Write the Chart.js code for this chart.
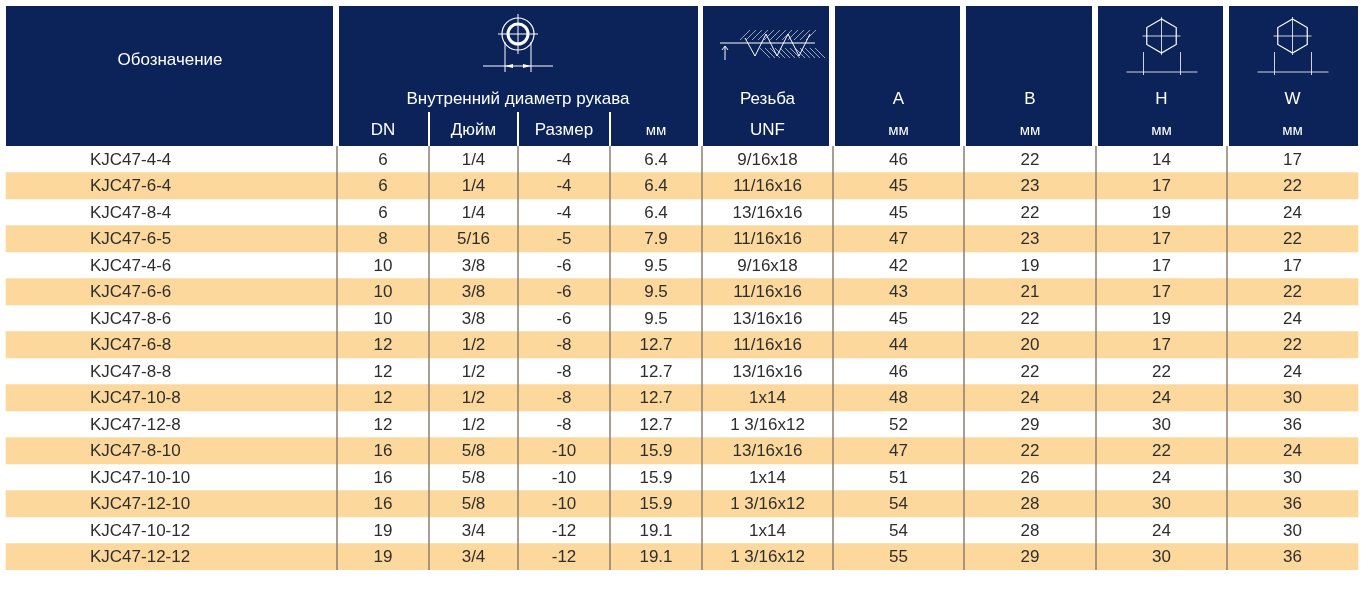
<!DOCTYPE html>
<html>
<head>
<meta charset="utf-8">
<script src="https://cdn.jsdelivr.net/npm/chart.js@4"></script>
<style>
  body { margin: 0; background: #fff; }
  #wrap { width: 1370px; height: 590px; position: relative; }
</style>
</head>
<body>
<div id="wrap"><canvas id="tbl"></canvas></div>
<script>
// данные таблицы
const codes = ["KJC47-4-4","KJC47-6-4","KJC47-8-4","KJC47-6-5","KJC47-4-6","KJC47-6-6","KJC47-8-6","KJC47-6-8",
  "KJC47-8-8","KJC47-10-8","KJC47-12-8","KJC47-8-10","KJC47-10-10","KJC47-12-10","KJC47-10-12","KJC47-12-12"];
const dn = ["6","6","6","8","10","10","10","12","12","12","12","16","16","16","19","19"];
const inch = ["1/4","1/4","1/4","5/16","3/8","3/8","3/8","1/2","1/2","1/2","1/2","5/8","5/8","5/8","3/4","3/4"];
const size = ["-4","-4","-4","-5","-6","-6","-6","-8","-8","-8","-8","-10","-10","-10","-12","-12"];
const mm = ["6.4","6.4","6.4","7.9","9.5","9.5","9.5","12.7","12.7","12.7","12.7","15.9","15.9","15.9","19.1","19.1"];
const unf = ["9/16x18","11/16x16","13/16x16","11/16x16","9/16x18","11/16x16","13/16x16","11/16x16",
  "13/16x16","1x14","1 3/16x12","13/16x16","1x14","1 3/16x12","1x14","1 3/16x12"];
const colA = ["46","45","45","47","42","43","45","44","46","48","52","47","51","54","54","55"];
const colB = ["22","23","22","23","19","21","22","20","22","24","29","22","26","28","28","29"];
const colH = ["14","17","19","17","17","17","19","17","22","24","30","22","24","30","24","30"];
const colW = ["17","22","24","22","17","22","24","22","24","30","36","24","30","36","30","36"];

// границы колонок (в единицах оси x)
const edges = [6, 337, 429, 518, 610, 702, 833, 964, 1096, 1227, 1358];
const columns = [dn, inch, size, mm, unf, colA, colB, colH, colW];

const NAVY = '#0b2358';
const STRIPE = '#fdd89c';
const FONT = '"Liberation Sans", Arial, sans-serif';

const tablePlugin = {
  id: 'tablePlugin',
  afterDatasetsDraw(chart) {
    const { ctx, scales: { x, y } } = chart;
    const px = v => x.getPixelForValue(v);
    const mid = i => px((edges[i] + edges[i + 1]) / 2);
    const top = chart.chartArea.top, bottom = chart.chartArea.bottom;
    ctx.save();

    // шапка
    const blocks = [[6, 333], [339, 698], [703, 829], [835, 960], [966, 1092], [1098, 1223], [1229, 1358]];
    ctx.fillStyle = NAVY;
    blocks.forEach(b => ctx.fillRect(px(b[0]), 6, px(b[1]) - px(b[0]), top - 6));
    ctx.strokeStyle = '#fff';
    ctx.lineWidth = 2;
    [429, 518, 610].forEach(e => {
      ctx.beginPath(); ctx.moveTo(px(e), 112); ctx.lineTo(px(e), top); ctx.stroke();
    });

    ctx.fillStyle = '#fff';
    ctx.textAlign = 'center';
    ctx.textBaseline = 'middle';
    ctx.font = '17px ' + FONT;
    ctx.fillText('Обозначение', px(170), 60);
    ctx.fillText('Внутренний диаметр рукава', px(518), 99);
    ctx.fillText('Резьба', mid(5), 99);
    ['A', 'B', 'H', 'W'].forEach((t, i) => ctx.fillText(t, mid(i + 6), 99));
    ['DN', 'Дюйм', 'Размер'].forEach((t, i) => ctx.fillText(t, mid(i + 1), 130));
    ctx.fillText('UNF', mid(5), 130);
    ctx.font = '15px ' + FONT;
    ctx.fillText('мм', mid(4), 131);
    [6, 7, 8, 9].forEach(i => ctx.fillText('мм', mid(i), 131));

    // значки
    ctx.strokeStyle = '#fff';
    ctx.lineWidth = 1.2;
    const cx = px(518), cy = 34;
    ctx.beginPath(); ctx.arc(cx, cy, 16, 0, Math.PI * 2); ctx.stroke();
    ctx.lineWidth = 3;
    ctx.beginPath(); ctx.arc(cx, cy, 10, 0, Math.PI * 2); ctx.stroke();
    ctx.lineWidth = 1;
    ctx.beginPath();
    ctx.moveTo(cx - 20, cy); ctx.lineTo(cx + 20, cy);
    ctx.moveTo(cx, cy - 20); ctx.lineTo(cx, cy + 20);
    ctx.moveTo(cx - 13, cy + 8); ctx.lineTo(cx - 13, 72);
    ctx.moveTo(cx + 13, cy + 8); ctx.lineTo(cx + 13, 72);
    ctx.moveTo(cx - 35, 66); ctx.lineTo(cx + 35, 66);
    ctx.stroke();
    [[cx - 13, -1], [cx + 13, 1]].forEach(([ax, d]) => {
      ctx.beginPath(); ctx.moveTo(ax, 66); ctx.lineTo(ax - d * 8, 64); ctx.lineTo(ax - d * 8, 68); ctx.closePath(); ctx.fill();
    });
    // резьба
    const tx = px(720);
    ctx.beginPath();
    ctx.moveTo(tx, 43); ctx.lineTo(tx + 95, 43);
    ctx.moveTo(tx + 5, 60); ctx.lineTo(tx + 5, 46);
    ctx.moveTo(tx + 2, 50); ctx.lineTo(tx + 5, 46); ctx.lineTo(tx + 8, 50);
    ctx.moveTo(tx + 25, 38);
    for (let k = 0; k < 3; k++) {
      ctx.lineTo(tx + 35 + k * 22, 56); ctx.lineTo(tx + 46 + k * 22, 34);
    }
    ctx.stroke();
    ctx.lineWidth = 0.6;
    ctx.beginPath();
    for (let k = 0; k < 12; k++) {
      ctx.moveTo(tx + 30 + k * 6, 30); ctx.lineTo(tx + 20 + k * 6, 40);
      ctx.moveTo(tx + 40 + k * 5, 48); ctx.lineTo(tx + 50 + k * 5, 58);
    }
    ctx.stroke();
    // шестигранники
    ctx.lineWidth = 1.2;
    [8, 9].forEach(ci => {
      const hx = mid(ci), hy = 36, r = 17;
      ctx.beginPath();
      for (let k = 0; k < 6; k++) {
        const a = Math.PI / 2 + k * Math.PI / 3;
        const X = hx + r * Math.cos(a), Y = hy - r * Math.sin(a);
        k ? ctx.lineTo(X, Y) : ctx.moveTo(X, Y);
      }
      ctx.closePath(); ctx.stroke();
      ctx.lineWidth = 0.8;
      ctx.beginPath();
      ctx.moveTo(hx - 19, hy); ctx.lineTo(hx + 19, hy);
      ctx.moveTo(hx, hy - 19); ctx.lineTo(hx, hy + 19);
      ctx.moveTo(hx - 18, 52); ctx.lineTo(hx - 18, 75);
      ctx.moveTo(hx + 19, 52); ctx.lineTo(hx + 19, 75);
      ctx.moveTo(hx - 35, 72); ctx.lineTo(hx + 36, 72);
      ctx.stroke();
      ctx.lineWidth = 1.2;
    });

    // вертикальные разделители
    ctx.strokeStyle = '#8c7e6f';
    ctx.lineWidth = 1.5;
    edges.slice(1, -1).forEach(e => {
      ctx.beginPath(); ctx.moveTo(px(e), top); ctx.lineTo(px(e), bottom); ctx.stroke();
    });

    // значения
    ctx.fillStyle = '#2e2e2e';
    ctx.font = '17px ' + FONT;
    codes.forEach((c, r) => {
      const yy = y.getPixelForValue(r) + 1;
      ctx.textAlign = 'left';
      ctx.fillText(c, px(90), yy);
      ctx.textAlign = 'center';
      columns.forEach((col, i) => ctx.fillText(col[r], mid(i + 1), yy));
    });
    ctx.restore();
  }
};

new Chart(document.getElementById('tbl'), {
  type: 'bar',
  data: {
    labels: codes,
    datasets: [{
      data: codes.map((c, i) => i % 2 ? [edges[0], edges[edges.length - 1]] : null),
      backgroundColor: STRIPE,
      barPercentage: 1,
      categoryPercentage: 1,
      borderWidth: 0
    }]
  },
  options: {
    indexAxis: 'y',
    responsive: true,
    maintainAspectRatio: false,
    animation: false,
    layout: { padding: { top: 146, bottom: 20, left: 0, right: 0 } },
    plugins: { legend: { display: false }, tooltip: { enabled: false } },
    scales: {
      x: { type: 'linear', min: 0, max: 1370, display: false },
      y: { display: false, grid: { display: false } }
    }
  },
  plugins: [tablePlugin]
});
</script>
</body>
</html>
